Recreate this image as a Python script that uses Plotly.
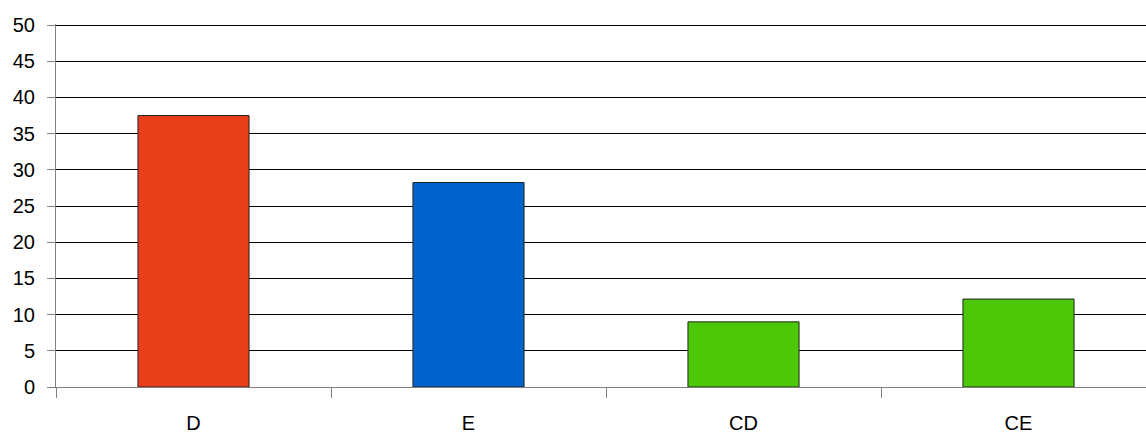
import plotly.graph_objects as go

categories = ["D", "E", "CD", "CE"]
values = [37.5, 28.25, 9.0, 12.15]
colors = ["#E83E1A", "#0064CC", "#4CC808"]
bar_colors = [colors[0], colors[1], colors[2], colors[2]]
y_ticks = [0, 5, 10, 15, 20, 25, 30, 35, 40, 45, 50]

fig = go.Figure(go.Bar(
    x=categories, y=values,
    marker=dict(color=bar_colors, line=dict(color="#222222", width=1)),
    width=0.404,
))

fig.update_layout(
    width=1146, height=435,
    margin=dict(l=56, r=0, t=24, b=48),
    paper_bgcolor="white", plot_bgcolor="white",
    font=dict(family="Liberation Sans, Arial, sans-serif", size=20, color="#000000"),
    showlegend=False,
)
fig.update_xaxes(
    range=[-0.5, 3.4636],
    showline=True, linecolor="#808080", linewidth=1,
    ticks="outside", tickson="boundaries", ticklen=10, tickcolor="#808080",
    showgrid=False, zeroline=False,
    tickfont=dict(size=20), ticklabelstandoff=18,
)
fig.update_yaxes(
    range=[0, 50.15], tickvals=y_ticks,
    showline=True, linecolor="#808080", linewidth=1,
    ticks="outside", ticklen=8, tickcolor="#808080",
    showgrid=True, gridcolor="#000000", gridwidth=1,
    zeroline=False,
    tickfont=dict(size=20), ticklabelstandoff=8,
)

fig.write_html("out.html")
